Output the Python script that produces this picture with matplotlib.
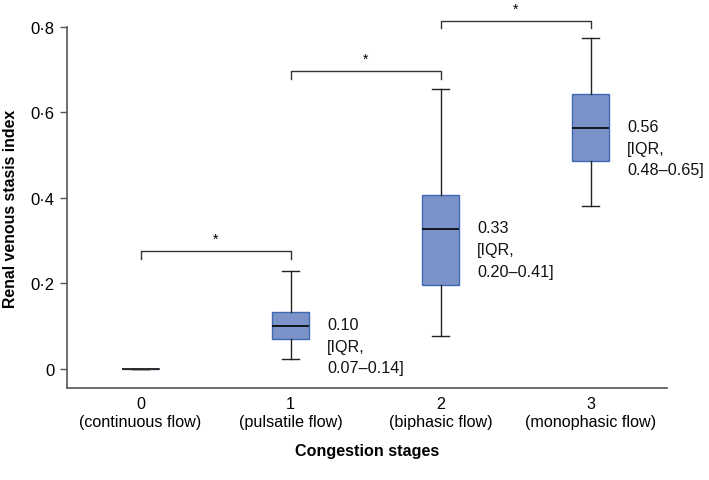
import numpy as np
import matplotlib
matplotlib.use('Agg')
import matplotlib.pyplot as plt

plt.rcParams['font.family'] = ['Liberation Sans', 'DejaVu Sans']

# Datos
etapas = [0, 1, 2, 3]
etiquetas_x = ['0\n(continuous flow)', '1\n(pulsatile flow)',
               '2\n(biphasic flow)', '3\n(monophasic flow)']
medianas = [0.0, 0.10, 0.326, 0.563]
q1 = [0.0, 0.070, 0.197, 0.486]
q3 = [0.0, 0.134, 0.406, 0.643]
bigote_inf = [0.0, 0.023, 0.077, 0.380]
bigote_sup = [0.0, 0.230, 0.655, 0.775]
textos = [None, '0.10\n[IQR,\n0.07\u20130.14]', '0.33\n[IQR,\n0.20\u20130.41]',
          '0.56\n[IQR,\n0.48\u20130.65]']

# Comparaciones significativas (inicio, fin, altura)
comparaciones = [(0, 1, 0.275), (1, 2, 0.697), (2, 3, 0.815)]

yticks = [0, 0.2, 0.4, 0.6, 0.8]
ytick_labels = ['0', '0\u00b72', '0\u00b74', '0\u00b76', '0\u00b78']

fig = plt.figure(figsize=(7.09, 4.81), dpi=100)
ax = fig.add_axes([0.0945, 0.1913, 0.8463, 0.7505])

stats = []
for i in range(len(etapas)):
    stats.append({'med': medianas[i], 'q1': q1[i], 'q3': q3[i],
                  'whislo': bigote_inf[i], 'whishi': bigote_sup[i], 'fliers': []})

ax.bxp(stats, positions=etapas, widths=0.245, patch_artist=True, showfliers=False,
       boxprops=dict(facecolor='#7b93c8', edgecolor='#4168b3', linewidth=1.0),
       medianprops=dict(color='black', linewidth=1.2),
       whiskerprops=dict(color='#222222', linewidth=1.0),
       capprops=dict(color='#222222', linewidth=1.0),
       capwidths=0.11)

# Línea del grupo 0 (todos ceros)
ax.plot([-0.12, 0.12], [0, 0], color='#333333', lw=1.2, zorder=4)

for i, t in enumerate(textos):
    if t is None:
        continue
    ax.annotate(t, xy=(etapas[i] + 0.245, medianas[i]), xytext=(0, 6.5),
                textcoords='offset points', ha='left', va='top', fontsize=11.6,
                linespacing=1.55, color='#111111')

# Corchetes de significancia
for a, b, h in comparaciones:
    d = 0.018
    ax.plot([a, a, b, b], [h - d, h, h, h - d], color='#333333', lw=1.0, clip_on=False)
    ax.text((a + b) / 2, h + 0.012, '*', ha='center', va='bottom', fontsize=10,
            clip_on=False)

ax.set_xlim(-0.49, 3.51)
ax.set_ylim(-0.045, 0.8)
ax.set_xticks(etapas)
ax.set_xticklabels(etiquetas_x, fontsize=11.6, linespacing=1.25)
ax.set_yticks(yticks)
ax.set_yticklabels(ytick_labels, fontsize=12)
ax.tick_params(axis='x', length=0, pad=6)
ax.tick_params(axis='y', length=5, width=1.0, color='#555555', pad=4)

for s in ['top', 'right']:
    ax.spines[s].set_visible(False)
for s in ['left', 'bottom']:
    ax.spines[s].set_color('#555555')
    ax.spines[s].set_linewidth(1.2)

ax.set_xlabel('Congestion stages', fontsize=11.6, fontweight='bold', labelpad=10)
ax.set_ylabel('Renal venous stasis index', fontsize=11.4, fontweight='bold', labelpad=9)

fig.savefig('out.png', dpi=100)
